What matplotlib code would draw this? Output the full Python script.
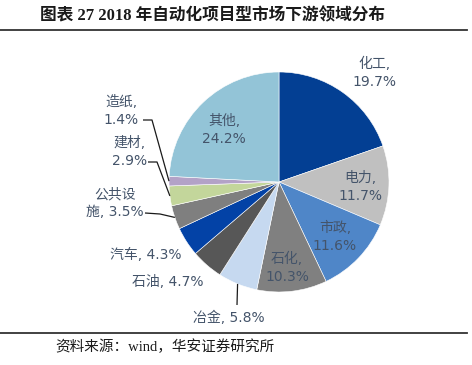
import numpy as np
import matplotlib.pyplot as plt

# data
names = ['化工', '电力', '市政', '石化', '冶金', '石油', '汽车', '公共设施', '建材', '造纸', '其他']
shares = [19.7, 11.7, 11.6, 10.3, 5.8, 4.7, 4.3, 3.5, 2.9, 1.4, 24.2]
colors = ['#033F93', '#C0C0C0', '#4F86C8', '#808080', '#C6D9F0', '#575757',
          '#0342A6', '#7F7F7F', '#C3D69B', '#B3A2C7', '#93C4D7']

title = '图表 27 2018 年自动化项目型市场下游领域分布'
source = '资料来源：wind，华安证券研究所'

W, H = 472, 365
txt_color = '#44546A'
lab_font = ['DejaVu Sans', 'Noto Sans CJK SC']
serif_font = ['Liberation Serif', 'Noto Sans CJK SC']

fig = plt.figure(figsize=(W / 100, H / 100), dpi=100)
ax = fig.add_axes([0, 0, 1, 1])

# pie centre / radius in image pixels (y measured from top)
cx, cy, r = 279, 182, 110
wedges, _ = ax.pie(shares, colors=colors, startangle=90, counterclock=False,
                   center=(cx, H - cy), radius=r, frame=True,
                   wedgeprops=dict(linewidth=0.4, edgecolor='white'))
ax.set_xlim(0, W)
ax.set_ylim(0, H)
ax.axis('off')


def label_text(name, val):
    if name == '公共设施':
        return '公共设\n施, %.1f%%' % val
    if name in ('冶金', '石油', '汽车'):
        return '%s, %.1f%%' % (name, val)
    return '%s,\n%.1f%%' % (name, val)


# label centres in image pixels
label_pos = {
    '化工': (374, 73), '电力': (360, 187), '市政': (335, 237), '石化': (287, 268),
    '冶金': (229, 318), '石油': (168, 282), '汽车': (146, 255),
    '公共设施': (115, 203), '建材': (130, 152), '造纸': (121, 111), '其他': (224, 130),
}
for name, val in zip(names, shares):
    x, y = label_pos[name]
    ax.text(x, H - y, label_text(name, val), ha='center', va='center',
            multialignment='center', fontsize=10, color=txt_color,
            family=lab_font, linespacing=1.35)

# leader lines: label end -> knee -> wedge edge at mid angle
leaders = {
    '造纸': [(143, 120), (152, 120)],
    '建材': [(148, 162), (157, 162)],
    '公共设施': [(145, 213), (160, 214)],
    '冶金': [(237, 305)],
}
for w, name in zip(wedges, names):
    if name not in leaders:
        continue
    mid = np.deg2rad((w.theta1 + w.theta2) / 2)
    ex, ey = cx + r * np.cos(mid), (H - cy) + r * np.sin(mid)
    pts = [(x, H - y) for x, y in leaders[name]] + [(ex, ey)]
    ax.plot([p[0] for p in pts], [p[1] for p in pts], color='#1a1a1a', lw=0.9,
            solid_capstyle='butt')

# title and rules
ax.text(40, H - 16, title, ha='left', va='center', fontsize=12, fontweight='bold',
        family=serif_font, color='#1a1a1a')
ax.plot([0, 467], [H - 30, H - 30], color='#333333', lw=1.3)
ax.plot([0, 467], [H - 333, H - 333], color='#333333', lw=1.3)
ax.text(55, H - 347, source, ha='left', va='center', fontsize=10.5,
        family=serif_font, color='#1a1a1a')

fig.savefig('out.png', dpi=100)
